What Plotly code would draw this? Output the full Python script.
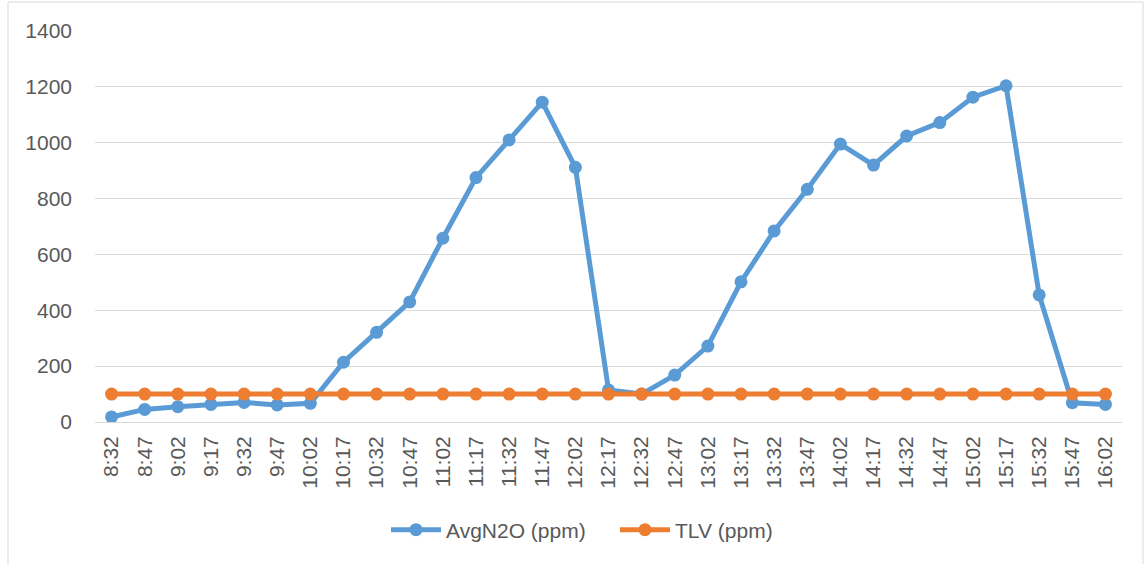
import plotly.graph_objects as go

times = ["8:32", "8:47", "9:02", "9:17", "9:32", "9:47", "10:02", "10:17", "10:32", "10:47",
         "11:02", "11:17", "11:32", "11:47", "12:02", "12:17", "12:32", "12:47", "13:02", "13:17",
         "13:32", "13:47", "14:02", "14:17", "14:32", "14:47", "15:02", "15:17", "15:32", "15:47", "16:02"]
avg_n2o = [18, 45, 55, 63, 70, 61, 67, 214, 321, 430,
           658, 875, 1010, 1145, 912, 115, 100, 168, 272, 502,
           684, 833, 995, 920, 1024, 1072, 1163, 1204, 455, 69, 63]
tlv = [100] * 31

W, H = 1145, 564
L, R, T, B = 95, 23, 31, 142

fig = go.Figure()
fig.add_trace(go.Scatter(x=times, y=avg_n2o, name="AvgN2O (ppm)", mode="lines+markers",
                         line=dict(color="#5B9BD5", width=5),
                         marker=dict(color="#5B9BD5", size=13)))
fig.add_trace(go.Scatter(x=times, y=tlv, name="TLV (ppm)", mode="lines+markers",
                         line=dict(color="#ED7D31", width=5),
                         marker=dict(color="#ED7D31", size=13)))

pw = W - L - R
ph = H - T - B
def px_x(p):
    return (p - L) / pw
def px_y(p):
    return (H - B - p) / ph

fig.add_shape(type="rect", xref="paper", yref="paper",
              x0=px_x(8), x1=px_x(1143), y0=px_y(2), y1=px_y(570),
              line=dict(color="#D9D9D9", width=1), fillcolor="rgba(0,0,0,0)", layer="below")

fig.update_layout(
    width=W, height=H,
    margin=dict(l=L, r=R, t=T, b=B),
    paper_bgcolor="white", plot_bgcolor="white",
    font=dict(family="Liberation Sans, Arial, sans-serif", color="#595959", size=21),
    showlegend=True,
    legend=dict(orientation="h", x=px_x(386), xanchor="left", y=px_y(530), yanchor="middle",
                font=dict(size=21, color="#595959"), traceorder="normal",
                entrywidth=164, entrywidthmode="pixels", itemwidth=50),
    xaxis=dict(type="category", range=[-0.5, 30.5], tickangle=-90, showgrid=False,
               showline=False, ticks="", tickfont=dict(size=21, color="#595959"),
               ticklabelstandoff=9, fixedrange=True),
    yaxis=dict(range=[0, 1400], dtick=200, showgrid=True, gridcolor="#D9D9D9", gridwidth=1.3,
               zeroline=True, zerolinecolor="#D9D9D9", zerolinewidth=1.3, showline=False,
               ticks="", tickfont=dict(size=21, color="#595959"), ticklabelstandoff=22,
               fixedrange=True),
)

fig.write_html("out.html")
